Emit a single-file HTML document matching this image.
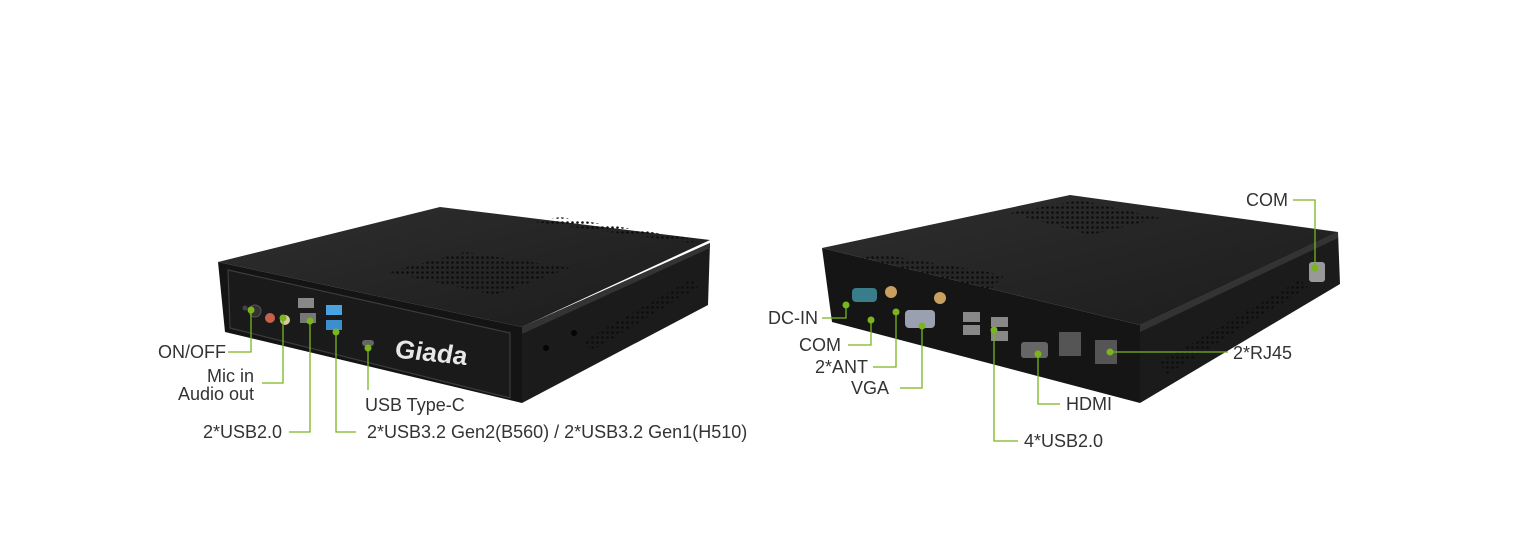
<!DOCTYPE html>
<html><head><meta charset="utf-8"><style>
html,body{margin:0;padding:0;background:#fff;}
svg{display:block}
text{font-family:"Liberation Sans",sans-serif;font-size:18px;fill:#333}
</style></head><body>
<svg width="1536" height="545" viewBox="0 0 1536 545" xmlns="http://www.w3.org/2000/svg">
<defs>
<pattern id="dots" width="5" height="5" patternUnits="userSpaceOnUse"><circle cx="2.5" cy="2.5" r="1.3" fill="#0c0c0c"/></pattern>
<linearGradient id="topL" x1="0" y1="0" x2="1" y2="1"><stop offset="0" stop-color="#2e2e2e"/><stop offset="1" stop-color="#1c1c1c"/></linearGradient>
</defs>
<!-- LEFT DEVICE -->
<polygon points="218,262 440,207 710,240 522,327" fill="url(#topL)"/>
<polygon points="218,262 522,327 522,403 225,332" fill="#141414"/>
<polygon points="522,327 710,243 708,305 522,403" fill="#1b1b1b"/>
<polygon points="522,327 710,243 710,248 522,334" fill="#333"/>
<polygon points="228,270 510,333 510,398 230,328" fill="#1a1a1a" stroke="#3c3c3c" stroke-width="1.2"/>
<polygon points="388,272 465,252 570,268 495,295" fill="url(#dots)"/>
<polygon points="535,222 560,217 700,240 690,243" fill="url(#dots)"/>
<polygon points="585,340 690,280 700,286 590,352" fill="url(#dots)"/>
<circle cx="546" cy="348" r="3" fill="#050505"/><circle cx="574" cy="333" r="3" fill="#050505"/>
<text x="395" y="358" transform="skewY(6) translate(0,-42)" style="fill:#e8e8e8;font-size:26px;font-weight:bold;font-style:italic">Giada</text>
<circle cx="255" cy="311" r="6" fill="#333" stroke="#555"/><circle cx="245" cy="308" r="2.5" fill="#444"/>
<circle cx="270" cy="318" r="5" fill="#c8614a"/><circle cx="285" cy="320" r="5" fill="#d9c9a0"/>
<rect x="298" y="298" width="16" height="10" fill="#888"/><rect x="300" y="313" width="16" height="10" fill="#777"/>
<rect x="326" y="305" width="16" height="10" fill="#4aa3e0"/><rect x="326" y="320" width="16" height="10" fill="#3a8fcc"/>
<rect x="362" y="340" width="12" height="6" rx="3" fill="#666"/>
<!-- RIGHT DEVICE -->
<polygon points="822,248 1070,195 1338,232 1140,325" fill="url(#topL)"/>
<polygon points="822,248 1140,325 1140,403 832,322" fill="#151515"/>
<polygon points="1140,325 1338,232 1340,284 1140,403" fill="#1b1b1b"/>
<polygon points="1140,325 1338,232 1338,238 1140,332" fill="#333"/>
<polygon points="1010,213 1080,200 1160,218 1090,235" fill="url(#dots)"/>
<polygon points="862,258 880,254 1005,275 990,290" fill="url(#dots)"/>
<polygon points="1160,362 1300,280 1308,287 1166,375" fill="url(#dots)"/>
<rect x="852" y="288" width="25" height="14" rx="4" fill="#3a7d8a"/>
<circle cx="891" cy="292" r="6" fill="#c8a060"/><circle cx="940" cy="298" r="6" fill="#c8a060"/>
<rect x="905" y="310" width="30" height="18" rx="4" fill="#9aa0b0"/>
<rect x="963" y="312" width="17" height="10" fill="#888"/><rect x="963" y="325" width="17" height="10" fill="#888"/>
<rect x="991" y="317" width="17" height="10" fill="#888"/><rect x="991" y="331" width="17" height="10" fill="#888"/>
<rect x="1021" y="342" width="27" height="16" rx="3" fill="#666"/>
<rect x="1059" y="332" width="22" height="24" fill="#555"/><rect x="1095" y="340" width="22" height="24" fill="#555"/>
<rect x="1309" y="262" width="16" height="20" rx="3" fill="#999"/>
<!-- CALLOUTS -->
<g stroke="#7ab51d" stroke-width="1.3" fill="none">
<polyline points="228,352 251,352 251,310"/>
<polyline points="262,383 283,383 283,318"/>
<polyline points="289,432 310,432 310,321"/>
<polyline points="356,432 336,432 336,332"/>
<polyline points="368,390 368,348"/>
<polyline points="822,318 846,318 846,305"/>
<polyline points="848,345 871,345 871,320"/>
<polyline points="873,367 896,367 896,312"/>
<polyline points="900,388 922,388 922,326"/>
<polyline points="1018,441 994,441 994,330"/>
<polyline points="1060,404 1038,404 1038,354"/>
<polyline points="1110,352 1228,352"/>
<polyline points="1293,200 1315,200 1315,268"/>
</g>
<g fill="#7ab51d">
<circle cx="251" cy="310" r="3.5"/><circle cx="283" cy="318" r="3.5"/><circle cx="310" cy="321" r="3.5"/><circle cx="336" cy="332" r="3.5"/><circle cx="368" cy="348" r="3.5"/>
<circle cx="846" cy="305" r="3.5"/><circle cx="871" cy="320" r="3.5"/><circle cx="896" cy="312" r="3.5"/><circle cx="922" cy="326" r="3.5"/><circle cx="994" cy="330" r="3.5"/><circle cx="1038" cy="354" r="3.5"/><circle cx="1110" cy="352" r="3.5"/><circle cx="1315" cy="268" r="3.5"/>
</g>
<text x="226" y="358" text-anchor="end">ON/OFF</text>
<text x="254" y="382" text-anchor="end">Mic in</text>
<text x="254" y="400" text-anchor="end">Audio out</text>
<text x="282" y="438" text-anchor="end">2*USB2.0</text>
<text x="365" y="411">USB Type-C</text>
<text x="367" y="438">2*USB3.2 Gen2(B560) / 2*USB3.2 Gen1(H510)</text>
<text x="818" y="324" text-anchor="end">DC-IN</text>
<text x="841" y="351" text-anchor="end">COM</text>
<text x="868" y="373" text-anchor="end">2*ANT</text>
<text x="889" y="394" text-anchor="end">VGA</text>
<text x="1024" y="447">4*USB2.0</text>
<text x="1066" y="410">HDMI</text>
<text x="1233" y="359">2*RJ45</text>
<text x="1288" y="206" text-anchor="end">COM</text>
</svg>
</body></html>
